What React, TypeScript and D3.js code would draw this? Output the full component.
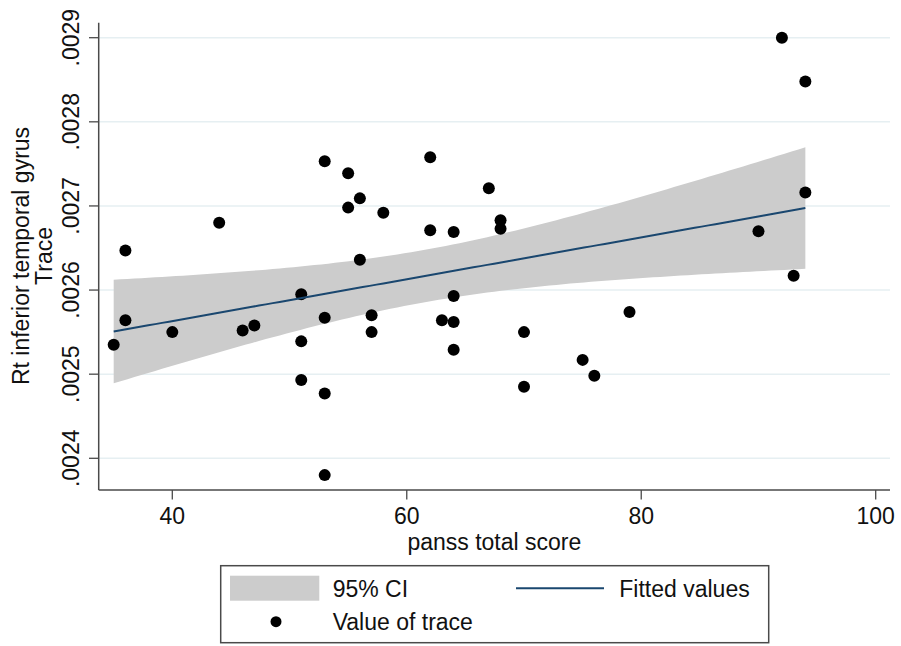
import React from "react";
import * as d3 from "d3";

const W = 901;
const H = 646;

// panss total score
const xValues = [
  35, 36, 36, 40, 44, 46, 47,
  51, 51, 51,
  53, 53, 53, 53,
  55, 55, 56, 56, 57, 57, 58,
  62, 62, 63, 64, 64, 64, 64,
  67, 68, 68, 70, 70, 75, 76, 79,
  90, 92, 93, 94, 94,
];
// trace
const yValues = [
  0.002535, 0.002647, 0.002564, 0.00255, 0.00268, 0.002552, 0.002558,
  0.002595, 0.002539, 0.002493,
  0.002753, 0.002567, 0.002477, 0.00238,
  0.002739, 0.002698, 0.002709, 0.002636, 0.00257, 0.00255, 0.002692,
  0.002758, 0.002671, 0.002564, 0.002669, 0.002593, 0.002562, 0.002529,
  0.002721, 0.002683, 0.002673, 0.00255, 0.002485, 0.002517, 0.002498, 0.002574,
  0.00267, 0.0029, 0.002617, 0.002848, 0.002716,
];

const xTicks = [40, 60, 80, 100];
const yTicks = [0.0024, 0.0025, 0.0026, 0.0027, 0.0028, 0.0029];
const yTickLabels = [".0024", ".0025", ".0026", ".0027", ".0028", ".0029"];

const T_CRIT = 2.0227; // t(0.975, n-2=39)

const FONT = "'Liberation Sans', Arial, Helvetica, sans-serif";

export default function App() {
  const left = 98.7;
  const right = 890;
  const top = 22.7;
  const bottom = 490;

  const x = d3.scaleLinear().domain([40, 100]).range([172.3, 875.7]);
  const y = d3.scaleLinear().domain([0.0024, 0.0029]).range([458.3, 37.7]);

  // linear fit with 95% CI of the mean prediction
  const n = xValues.length;
  const mx = d3.mean(xValues) as number;
  const my = d3.mean(yValues) as number;
  let sxx = 0, sxy = 0;
  for (let i = 0; i < n; i++) {
    sxx += (xValues[i] - mx) ** 2;
    sxy += (xValues[i] - mx) * (yValues[i] - my);
  }
  const b = sxy / sxx;
  const a = my - b * mx;
  let sse = 0;
  for (let i = 0; i < n; i++) sse += (yValues[i] - (a + b * xValues[i])) ** 2;
  const s = Math.sqrt(sse / (n - 2));
  const xmin = d3.min(xValues) as number;
  const xmax = d3.max(xValues) as number;
  const grid = d3.range(0, 101).map((i) => xmin + ((xmax - xmin) * i) / 100);
  const band = grid.map((xv) => {
    const fit = a + b * xv;
    const se = s * Math.sqrt(1 / n + (xv - mx) ** 2 / sxx);
    return { x: xv, fit, lo: fit - T_CRIT * se, hi: fit + T_CRIT * se };
  });

  const area = d3
    .area<{ x: number; lo: number; hi: number }>()
    .x((d) => x(d.x))
    .y0((d) => y(d.lo))
    .y1((d) => y(d.hi));
  const line = d3
    .line<{ x: number; fit: number }>()
    .x((d) => x(d.x))
    .y((d) => y(d.fit));

  const axisColor = "#4a4a4a";

  return (
    <div style={{ position: "absolute", left: 0, top: 0 }}>
      <svg width={W} height={H} style={{ display: "block", background: "#fff" }} fontFamily={FONT}>
        {/* grid */}
        {yTicks.map((t) => (
          <line key={"g" + t} x1={left} x2={right} y1={y(t)} y2={y(t)} stroke="#e6eff2" strokeWidth={1.5} />
        ))}
        {/* CI band */}
        <path d={area(band) || ""} fill="#cccccc" />
        {/* points */}
        {xValues.map((xv, i) => (
          <circle key={"p" + i} cx={x(xv)} cy={y(yValues[i])} r={6} fill="#000" />
        ))}
        {/* fitted line */}
        <path d={line(band) || ""} fill="none" stroke="#1a476f" strokeWidth={2} />

        {/* axes */}
        <line x1={left} x2={left} y1={top} y2={bottom} stroke={axisColor} strokeWidth={1.5} />
        <line x1={left} x2={right} y1={bottom} y2={bottom} stroke={axisColor} strokeWidth={1.5} />
        {yTicks.map((t, i) => (
          <g key={"yt" + t}>
            <line x1={89} x2={left} y1={y(t)} y2={y(t)} stroke={axisColor} strokeWidth={1.3} />
            <text
              transform={`translate(79,${y(t)}) rotate(-90)`}
              textAnchor="middle"
              fontSize={23}
              fill="#111"
            >
              {yTickLabels[i]}
            </text>
          </g>
        ))}
        {xTicks.map((t) => (
          <g key={"xt" + t}>
            <line x1={x(t)} x2={x(t)} y1={bottom} y2={499.5} stroke={axisColor} strokeWidth={1.3} />
            <text x={x(t)} y={523.5} textAnchor="middle" fontSize={23} fill="#111">
              {t}
            </text>
          </g>
        ))}
        <text x={(left + right) / 2} y={550} textAnchor="middle" fontSize={23} fill="#111">
          panss total score
        </text>
        <text transform={`translate(29,256) rotate(-90)`} textAnchor="middle" fontSize={23} fill="#111">
          Rt inferior temporal gyrus
        </text>
        <text transform={`translate(52,256) rotate(-90)`} textAnchor="middle" fontSize={23} fill="#111">
          Trace
        </text>

        {/* legend */}
        <rect x={220.7} y={565.7} width={548} height={77} fill="#fff" stroke={axisColor} strokeWidth={1.5} />
        <rect x={230} y={575.7} width={89.3} height={25} fill="#cccccc" />
        <text x={332.7} y={596.5} fontSize={23} fill="#111">95% CI</text>
        <line x1={516} x2={604} y1={588.3} y2={588.3} stroke="#1a476f" strokeWidth={2} />
        <text x={619.3} y={596.5} fontSize={23} fill="#111">Fitted values</text>
        <circle cx={276} cy={621.7} r={5.5} fill="#000" />
        <text x={332.7} y={629.5} fontSize={23} fill="#111">Value of trace</text>
      </svg>
    </div>
  );
}
